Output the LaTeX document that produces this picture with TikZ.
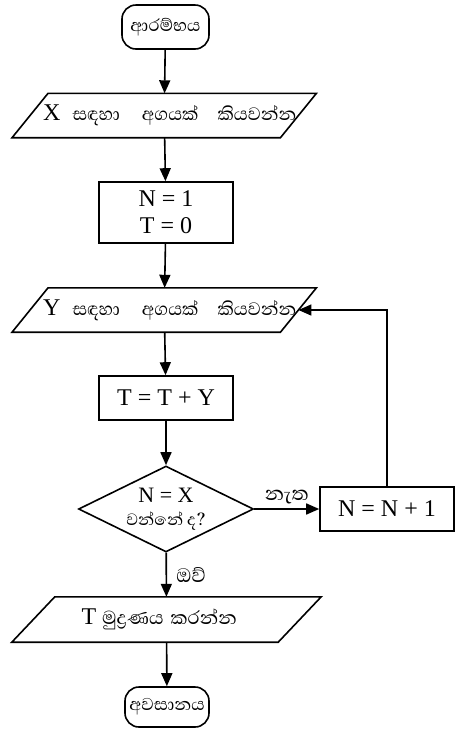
\documentclass[tikz,border=0pt]{standalone}
\usepackage{fontspec}
\setmainfont{Liberation Serif}
\newfontfamily\sinhalafont[Script=Sinhala]{Abhaya Libre}
\newcommand{\si}[2][22]{{\sinhalafont\fontsize{#1}{#1}\selectfont #2}}
\usetikzlibrary{shapes.geometric,arrows.meta}
\tikzset{
    flow/.style={line width=1.6pt,-{Triangle[length=13pt,width=11pt]}},
    term/.style={draw,line width=1.6pt,rounded corners=14pt,minimum width=87pt,minimum height=44pt,inner sep=0pt},
    io/.style={minimum width=268pt,minimum height=44pt,inner sep=0pt,font=\fontsize{24}{26}\selectfont},
    box/.style={draw,line width=1.6pt,minimum width=134pt,minimum height=44pt,align=center,font=\fontsize{24}{27}\selectfont},
    decide/.style={draw,line width=1.6pt,diamond,aspect=2,minimum width=175pt,minimum height=86pt,inner sep=0pt,align=center,font=\fontsize{22}{24}\selectfont}
}
\begin{document}
\begin{tikzpicture}[x=1pt,y=-1pt]
    \useasboundingbox (0,0) rectangle (461,729);
    \node[term] (start) at (165.5,27) {\si{ආරම්භය}};
    \node[io] (readX) at (164.25,115.5) {\makebox[268pt][l]{\hspace{13pt}X\hspace{12pt}\si[23]{සඳහා\hspace{22pt}අගයක්\hspace{19pt}කියවන්න}}};
    \node[box,minimum height=61pt] (init) at (166,212.5) {N = 1\\T = 0};
    \node[io] (readY) at (164.25,310) {\makebox[268pt][l]{\hspace{13pt}Y\hspace{12pt}\si[23]{සඳහා\hspace{22pt}අගයක්\hspace{19pt}කියවන්න}}};
    \node[box] (add) at (166,398) {T = T + Y};
    \node[decide] (test) at (166,509) {N = X\\[-1pt]\si[21]{වන්නේ ද?}};
    \node[box] (inc) at (387,509) {N = N + 1};
    \node[io,minimum width=266pt,minimum height=45pt] (print) at (166.5,619.5) {\makebox[266pt][l]{\hspace{48pt}T \si[24]{මුද්^^^^200dරණය\hspace{7pt}කරන්න}}};
    \node[term,minimum width=84pt,minimum height=40pt] (stop) at (167,707) {\si{අවසානය}};
    % parallelograms round the input/output nodes
    \foreach \n/\s in {readX/18,readY/18,print/21.5}
        \draw[line width=1.6pt] ([xshift=\s pt]\n.north west) -- ([xshift=\s pt]\n.north east)
            -- ([xshift=-\s pt]\n.south east) -- ([xshift=-\s pt]\n.south west) -- cycle;
    \draw[flow] (start) -- (readX);
    \draw[flow] (readX) -- (init);
    \draw[flow] (init) -- (readY);
    \draw[flow] (readY) -- (add);
    \draw[flow] (add) -- (test);
    \draw[flow] (test) -- node[above=1pt] {\si[25]{නැත}} (inc);
    \draw[flow] (inc.north) |- (readY.east);
    \draw[flow] (test) -- node[right=6pt] {\si[25]{ඔව්}} (print);
    \draw[flow] (print) -- (stop);
\end{tikzpicture}
\end{document}
